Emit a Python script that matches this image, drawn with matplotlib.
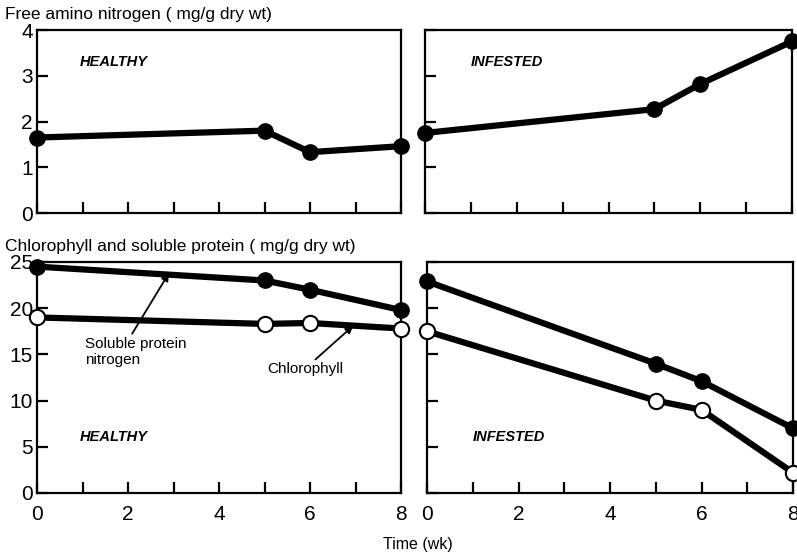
import matplotlib
matplotlib.use("Agg")
import matplotlib.pyplot as plt

# Sampling times (weeks)
weeks = [0, 5, 6, 8]

# Free amino nitrogen (mg/g dry wt)
amino_healthy = [1.65, 1.8, 1.33, 1.46]
amino_infested = [1.75, 2.27, 2.82, 3.75]

# Soluble protein nitrogen and chlorophyll (mg/g dry wt)
protein_healthy = [24.5, 23.0, 22.0, 19.8]
chloro_healthy = [19.0, 18.3, 18.4, 17.8]
protein_infested = [22.9, 14.0, 12.1, 7.0]
chloro_infested = [17.5, 10.0, 9.0, 2.2]

x_ticks = [0, 2, 4, 6, 8]
amino_ticks = [0, 1, 2, 3, 4]
pc_ticks = [0, 5, 10, 15, 20, 25]

plt.rcParams['font.family'] = ['Liberation Sans', 'DejaVu Sans']

fig = plt.figure(figsize=(7.97, 5.56), dpi=100)
W, H = 797, 556


def box(l, t, r, b):
    return [l / W, 1 - b / H, (r - l) / W, (b - t) / H]


ax_tl = fig.add_axes(box(37, 30, 401, 213))
ax_tr = fig.add_axes(box(425, 30, 792, 213))
ax_bl = fig.add_axes(box(37, 262, 401, 493))
ax_br = fig.add_axes(box(427, 262, 793, 493))

LW = 4.5
MS = 11


def style(ax, yticks, ylim, ylabels, xlabels):
    ax.set_xlim(0, 8)
    ax.set_ylim(*ylim)
    for s in ax.spines.values():
        s.set_linewidth(1.6)
        s.set_color('black')
    ax.set_xticks(range(0, 9))
    ax.set_yticks(yticks)
    ax.tick_params(direction='in', length=8, width=1.6, labelsize=15,
                   top=False, right=False)
    ax.tick_params(axis='x', pad=9)
    ax.tick_params(axis='y', pad=3)
    if xlabels:
        ax.set_xticklabels([str(v) if v in x_ticks else '' for v in range(0, 9)])
    else:
        ax.set_xticklabels([])
    if ylabels:
        ax.set_yticklabels([str(v) for v in yticks])
    else:
        ax.set_yticklabels([])


def filled(ax, y):
    ax.plot(weeks, y, '-o', color='black', lw=LW, ms=MS, mfc='black',
            mec='black', clip_on=False, zorder=3)


def hollow(ax, y):
    ax.plot(weeks, y, '-o', color='black', lw=LW, ms=MS, mfc='white',
            mec='black', mew=1.5, clip_on=False, zorder=3)


style(ax_tl, amino_ticks, (0, 4), True, False)
style(ax_tr, amino_ticks, (0, 4), False, False)
style(ax_bl, pc_ticks, (0, 25), True, True)
style(ax_br, pc_ticks, (0, 25), False, True)

filled(ax_tl, amino_healthy)
filled(ax_tr, amino_infested)
filled(ax_bl, protein_healthy)
hollow(ax_bl, chloro_healthy)
filled(ax_br, protein_infested)
hollow(ax_br, chloro_infested)

lab_kw = dict(fontsize=10.5, fontstyle='italic', fontweight='bold', ha='left', va='center')
ax_tl.text(0.95, 3.3, 'HEALTHY', **lab_kw)
ax_tr.text(1.0, 3.3, 'INFESTED', **lab_kw)
ax_bl.text(0.95, 6.1, 'HEALTHY', **lab_kw)
ax_br.text(1.0, 6.1, 'INFESTED', **lab_kw)

ax_bl.annotate('Soluble protein\nnitrogen', xy=(2.9, 23.8), xytext=(1.05, 15.3),
               fontsize=11, ha='left', va='center', linespacing=1.2,
               arrowprops=dict(arrowstyle='-|>', color='black', lw=1.3,
                               shrinkA=0, shrinkB=0,
                               relpos=(0.45, 1.0)))
ax_bl.annotate('Chlorophyll', xy=(6.95, 18.1), xytext=(5.05, 13.4),
               fontsize=11, ha='left', va='center',
               arrowprops=dict(arrowstyle='-|>', color='black', lw=1.3,
                               shrinkA=0, shrinkB=0,
                               relpos=(0.6, 1.0)))

fig.text(5 / W, 1 - 14 / H, 'Free amino nitrogen ( mg/g dry wt)', fontsize=12.5,
         ha='left', va='center')
fig.text(5 / W, 1 - 247 / H, 'Chlorophyll and soluble protein ( mg/g dry wt)',
         fontsize=12.5, ha='left', va='center')
fig.text(418 / W, 1 - 544 / H, 'Time (wk)', fontsize=11.5, ha='center', va='center')

fig.savefig('out.png', dpi=100)
